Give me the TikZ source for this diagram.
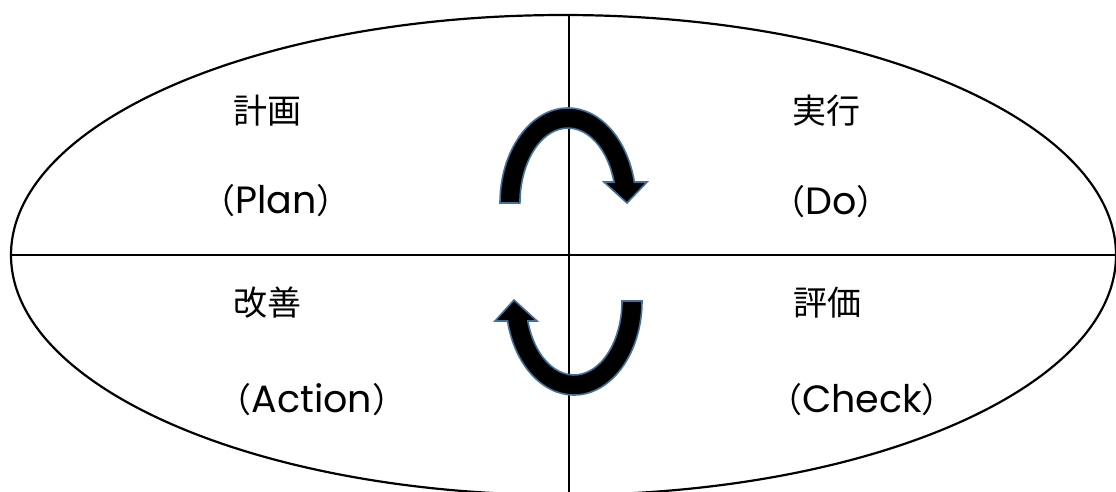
\documentclass[tikz,border=0pt]{standalone}
\usepackage{fontspec}
\newfontfamily\jpfont{Noto Sans CJK JP}
\newfontfamily\latinfont{Poppins}
\usetikzlibrary{shapes.geometric}
\definecolor{arrowline}{RGB}{65,113,156}
\newcommand{\lat}[1]{{\latinfont\fontsize{38}{40}\selectfont #1}}
\tikzset{
  frame/.style={draw=black, line width=2.2pt},
  uturn/.style={fill=black, draw=arrowline, line width=1.6pt, line join=miter},
  lbl/.style={anchor=base, inner sep=0pt, font=\jpfont\fontsize{34}{40}\selectfont}
}
\begin{document}
\begin{tikzpicture}[x=1pt, y=-1pt]
\useasboundingbox (0,0) rectangle (1116,491);
\clip (0,0) rectangle (1116,491);
% outer ellipse
\node[frame, ellipse, minimum width=1105pt, minimum height=480pt, inner sep=0pt] (E) at (563.5,255) {};
\coordinate (vtop) at (569,15);
\coordinate (vbot) at (569,495);
\draw[frame] (E.west) -- (E.east);
\draw[frame] (vtop) -- (vbot);
% top U-turn arrow
\draw[uturn] (500,203) arc[start angle=180, end angle=347.2, x radius=68, y radius=95]
  -- (647,182) -- (627,203) -- (604,182)
  -- (614,182) arc[start angle=343.7, end angle=180, x radius=48, y radius=75] -- cycle;
% bottom U-turn arrow
\draw[uturn] (642,301) arc[start angle=0, end angle=167.7, x radius=68, y radius=94]
  -- (495,321) -- (514,300) -- (537,321)
  -- (527.8,321) arc[start angle=164.3, end angle=0, x radius=48, y radius=74] -- cycle;
% labels
\node[lbl] (plan) at (267,123) {計画};
\node[lbl] (planen) at (276,213) {（\lat{Plan}）};
\node[lbl] (do) at (826,123) {実行};
\node[lbl] (doen) at (831,214) {（\lat{Do}）};
\node[lbl] (act) at (267,315) {改善};
\node[lbl] (acten) at (312,412) {（\lat{Action}）};
\node[lbl] (chk) at (827,315) {評価};
\node[lbl] (chken) at (862,412) {（\lat{Check}）};
\end{tikzpicture}
\end{document}
